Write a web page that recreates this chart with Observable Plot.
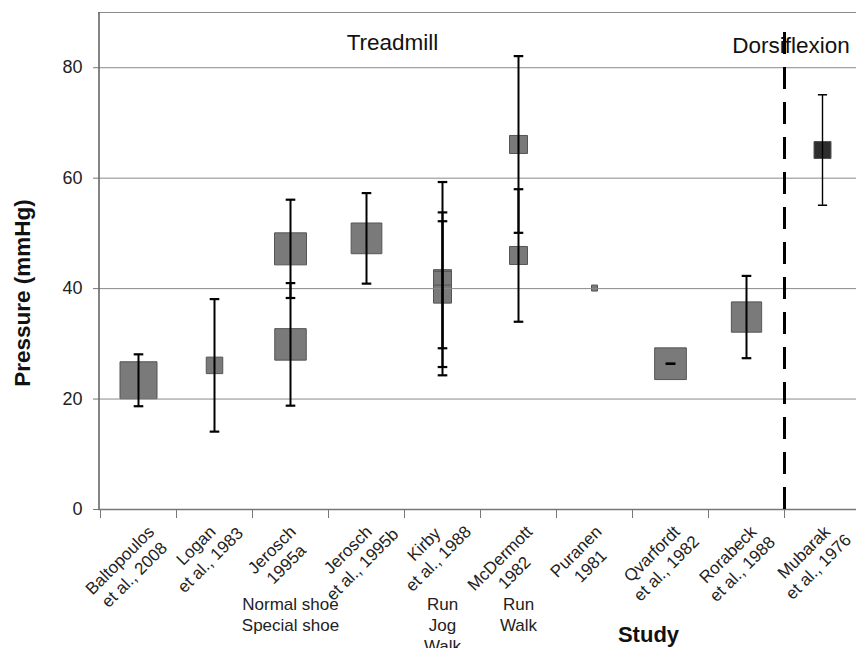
<!DOCTYPE html>
<html>
<head>
<meta charset="utf-8">
<script src="https://cdn.jsdelivr.net/npm/d3@7"></script>
<script src="https://cdn.jsdelivr.net/npm/@observablehq/plot@0.6"></script>
<style>
  html, body { margin: 0; padding: 0; background: #fff; }
  #chart { width: 856px; height: 648px; }
</style>
</head>
<body>
<div id="chart"></div>
<script>
// ---- data ----
const studies = [
  "Baltopoulos\net al., 2008",
  "Logan\net al., 1983",
  "Jerosch\n1995a",
  "Jerosch\net al., 1995b",
  "Kirby\net al., 1988",
  "McDermott\n1982",
  "Puranen\n1981",
  "Qvarfordt\net al., 1982",
  "Rorabeck\net al., 1988",
  "Mubarak\net al., 1976"
];
const studyGroup = ["Treadmill","Treadmill","Treadmill","Treadmill","Treadmill",
                    "Treadmill","Treadmill","Treadmill","Treadmill","Dorsiflexion"];
const conditionLabels = ["", "", "Normal shoe\nSpecial shoe", "", "Run\nJog\nWalk", "Run\nWalk", "", "", "", ""];

// one entry per measurement
const mStudy     = [0,    1,    2,    2,    3,    4,    4,    4,    5,    5,    6,    7,    8,     9];
const mCondition = ["",   "",   "Normal shoe", "Special shoe", "", "Run", "Jog", "Walk", "Run", "Walk", "", "", "", ""];
const mMean      = [23.4, 26.1, 47.2, 29.9, 49.1, 41.8, 41.5, 39.0, 66.1, 46.0, 40.1, 26.4, 34.85, 65.1];
const mSD        = [4.7,  12.0, 8.9,  11.1, 8.2,  17.5, 12.3, 13.2, 16.0, 12.0, null, 0,    7.45,  10.0];
const mWeight    = [37,   16.5, 32,   31.5, 30.7, 18,   18,   18,   18,   18,   6,    31.7, 30.3,  17];

const yTicks = [0, 20, 40, 60, 80];
const yMax = 90;
const dividerTop = 88.5;

// ---- derived tables ----
const rows = mStudy.map((s, i) => ({
  study: s,
  condition: mCondition[i],
  mean: mMean[i],
  sd: mSD[i],
  weight: mWeight[i],
  lo: mSD[i] == null ? null : mMean[i] - mSD[i],
  hi: mSD[i] == null ? null : mMean[i] + mSD[i],
  group: studyGroup[s]
}));
const barRows = rows.filter(d => d.sd != null);
const capRows = barRows.flatMap(d => [{...d, y: d.lo}, {...d, y: d.hi}]);
const boundaries = studies.map((_, i) => i - 0.5).filter(v => v < studies.length - 1);
const dividerX = studyGroup.indexOf("Dorsiflexion") - 0.5;

const capSymbol = {
  draw(context, size) {
    const w = Math.sqrt(size / Math.PI);
    context.moveTo(-w, 0);
    context.lineTo(w, 0);
  }
};

// rotated, centred multi-line study labels (Excel-like placement)
const FONT = "'Liberation Sans', Arial, Helvetica, sans-serif";
const LABEL_SIZE = 17;
const LINE_H = 1.2;
const ctx = document.createElement("canvas").getContext("2d");
ctx.font = `${LABEL_SIZE}px ${FONT}`;
const k = Math.SQRT1_2;
const LABEL_TOP = 14;     // px below the axis line for the highest ink of a label
const LABEL_SHIFT = -12;  // horizontal shift of the label block centre

const labelMarks = studies.map((s, i) => {
  const lines = s.split("\n");
  const n = lines.length;
  const lh = LINE_H * LABEL_SIZE;
  let top = Infinity;
  lines.forEach((l, j) => {
    const w = ctx.measureText(l).width;
    const b = 0.32 * LABEL_SIZE + (j - (n - 1) / 2) * lh;
    top = Math.min(top, k * (b - 0.72 * LABEL_SIZE - w / 2));
  });
  return Plot.text([i], {
    x: d => d, y: 0, text: d => studies[d],
    rotate: -45, textAnchor: "middle", lineAnchor: "middle",
    lineHeight: LINE_H, fontSize: LABEL_SIZE, fill: "#222",
    dx: LABEL_SHIFT, dy: LABEL_TOP - top
  });
});

const chart = Plot.plot({
  width: 856,
  height: 648,
  marginTop: 12,
  marginBottom: 139,
  marginLeft: 98,
  marginRight: 0,
  style: { fontFamily: FONT, fontSize: "16.5px", background: "#fff", color: "#222" },
  x: { type: "linear", domain: [-0.5, studies.length - 0.5], range: [100, 860] },
  y: { domain: [0, yMax] },
  r: { type: "linear", domain: [0, 40], range: [0, 40 / Math.sqrt(Math.PI)] },
  color: { domain: ["Treadmill", "Dorsiflexion"], range: ["#7a7a7a", "#2e2e2e"] },
  marks: [
    // squares
    Plot.dot(rows, { x: "study", y: "mean", r: "weight", symbol: "square",
                     fill: "group", stroke: "#555", strokeWidth: 1 }),
    // grid + frame
    Plot.ruleY(yTicks.filter(t => t > 0), { stroke: "#8a8a8a", strokeWidth: 1 }),
    Plot.ruleY([yMax], { stroke: "#8a8a8a", strokeWidth: 1.2 }),
    Plot.ruleY([0], { stroke: "#777", strokeWidth: 1.6 }),
    Plot.ruleX([-0.5], { dx: -1.5, stroke: "#666", strokeWidth: 1.6 }),
    // axes
    Plot.axisY({ ticks: yTicks, tickSize: 5, tickPadding: 11, fontSize: 18,
                 stroke: "#777", fill: "#222", label: null }),
    Plot.axisX({ ticks: boundaries, tickSize: 9, tickFormat: () => "",
                 stroke: "#777", label: null }),
    // divider
    Plot.ruleX([dividerX], { y1: 0, y2: dividerTop, stroke: "#000", strokeWidth: 3,
                             strokeDasharray: "22,13" }),
    // error bars
    Plot.ruleX(barRows.filter(d => d.group === "Treadmill"),
               { x: "study", y1: "lo", y2: "hi", stroke: "#000", strokeWidth: 2 }),
    Plot.ruleX(barRows.filter(d => d.group === "Dorsiflexion"),
               { x: "study", y1: "lo", y2: "hi", stroke: "#000", strokeWidth: 1.4 }),
    Plot.dot(capRows.filter(d => d.group === "Treadmill"),
             { x: "study", y: "y", r: 4.8, symbol: capSymbol, fill: "none",
               stroke: "#000", strokeWidth: 2.2 }),
    Plot.dot(capRows.filter(d => d.group === "Dorsiflexion"),
             { x: "study", y: "y", r: 4.6, symbol: capSymbol, fill: "none",
               stroke: "#000", strokeWidth: 1.5 }),
    // group labels
    Plot.text(["Treadmill"], { frameAnchor: "top", dx: -85, dy: 37.5, lineAnchor: "bottom",
                               fontSize: 22.5, fill: "#111" }),
    Plot.text(["Dorsiflexion"], { frameAnchor: "top-left", dx: 633.7, dy: 40.5,
                                  textAnchor: "start", lineAnchor: "bottom",
                                  fontSize: 22.5, fill: "#111" }),
    // rotated study labels
    ...labelMarks,
    // condition labels
    Plot.text(studies.map((_, i) => i).filter(i => conditionLabels[i]), {
      x: d => d, y: 0, text: d => conditionLabels[d],
      lineAnchor: "top", dy: 85.3, lineHeight: 1.25, fontSize: LABEL_SIZE, fill: "#222"
    }),
    // axis titles
    Plot.text(["Study"], { frameAnchor: "bottom", dx: 171, dy: 132, lineAnchor: "bottom",
                           fontSize: 22, fontWeight: "bold", fill: "#111" }),
    Plot.text(["Pressure (mmHg)"], { frameAnchor: "left", rotate: -90, dx: -76, dy: 32,
                                     textAnchor: "middle", lineAnchor: "middle",
                                     fontSize: 22.5, fontWeight: "bold", fill: "#111" })
  ]
});

document.getElementById("chart").appendChild(chart);
</script>
</body>
</html>
